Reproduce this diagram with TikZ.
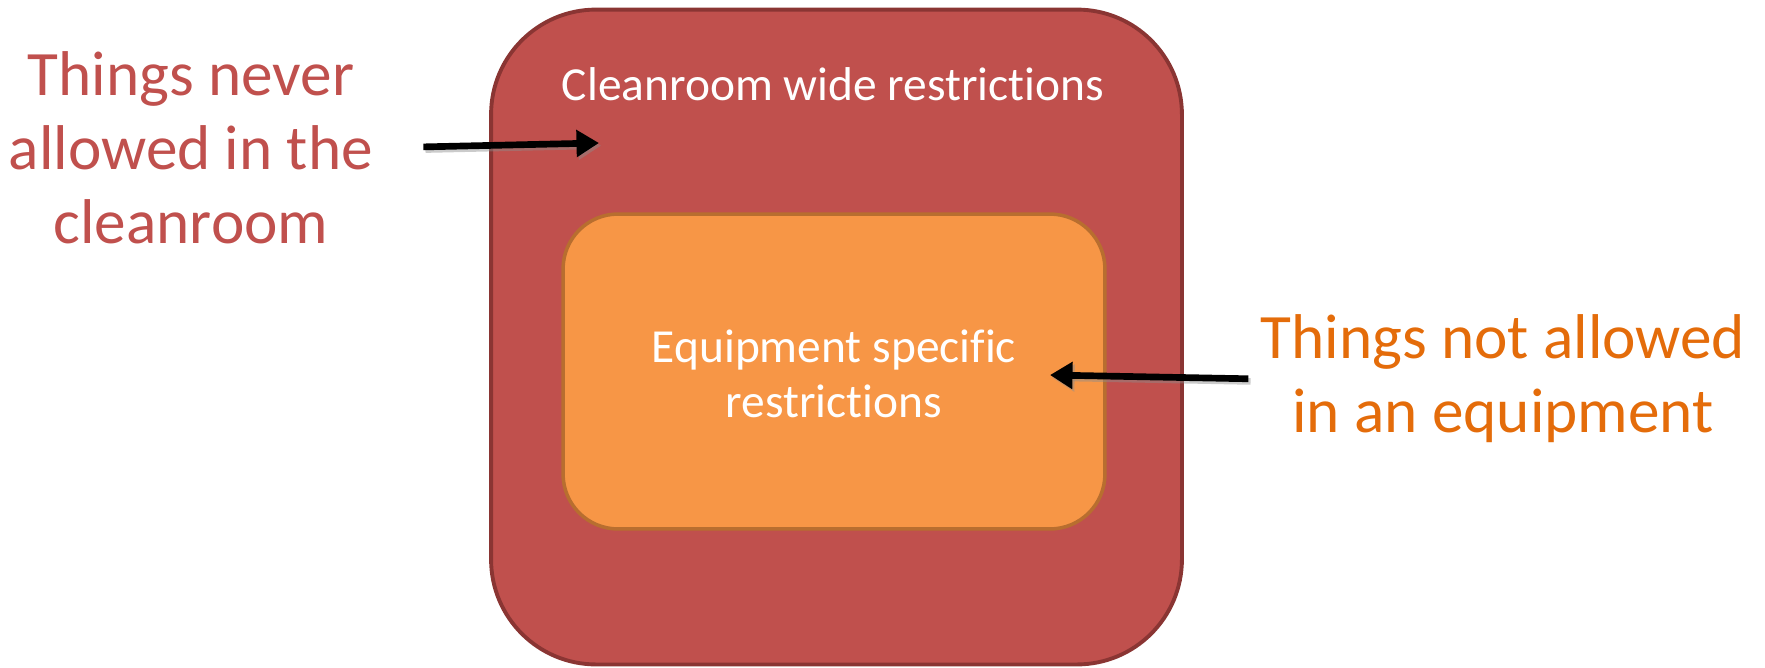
\documentclass[tikz,border=0pt]{standalone}
\usepackage{fontspec}
\setmainfont{Carlito}[Ligatures=NoCommon]
\usepackage{xcolor}
\usetikzlibrary{positioning,shapes,arrows.meta}

\definecolor{roomred}{HTML}{C0504D}
\definecolor{roomedge}{HTML}{8A3533}
\definecolor{equiporange}{HTML}{F79646}
\definecolor{equipedge}{HTML}{B86E2F}
\definecolor{equiptext}{HTML}{E46C0A}

\begin{document}
\begin{tikzpicture}[x=0.02cm,y=-0.02cm]
\useasboundingbox (0,0) rectangle (1765,667);
\tikzstyle{roombox}=[draw=roomedge,fill=roomred,line width=2.2pt,rounded corners=2.1cm,inner sep=0pt]
\tikzstyle{equipbox}=[draw=equipedge,fill=equiporange,line width=2pt,rounded corners=1.1cm,inner sep=0pt]
\tikzstyle{boxtext}=[text=white,align=center,inner sep=0pt,font=\fontsize{27}{31}\selectfont]
\tikzstyle{sidetext}=[align=center,inner sep=0pt,font=\fontsize{36}{42}\selectfont]
\tikzstyle{pointer}=[line width=3.8pt,-{Triangle[length=0.45cm,width=0.52cm]}]
\tikzstyle{pointershade}=[pointer,black!45,opacity=.45,transform canvas={xshift=1.2pt,yshift=-1.5pt}]

% the two restriction areas
\node[roombox,minimum width=13.82cm,minimum height=13.1cm] (room) at (836.5,337) {};
\node[equipbox,minimum width=10.84cm,minimum height=6.3cm] (equip) at (834,371.5) {};
\node[boxtext] (roomlabel) at (833,84) {Cleanroom wide restrictions};
\node[boxtext] (equiplabel) at (834,374) {Equipment specific\\restrictions};

% explanations outside
\node[sidetext,text=roomred] (never) at (191,148) {Things never\\allowed in the\\cleanroom};
\node[sidetext,text=equiptext] (notequip) at (1503,379) {Things not allowed\\in an equipment};

\coordinate (roomtip) at (599,143);
\coordinate (equiptip) at (1050,375);
\draw[pointershade,shorten <=1cm] (never.east) -- (roomtip);
\draw[pointer,shorten <=1cm] (never.east) -- (roomtip);
\draw[pointershade,shorten <=0.24cm] (notequip.west) -- (equiptip);
\draw[pointer,shorten <=0.24cm] (notequip.west) -- (equiptip);
\end{tikzpicture}
\end{document}
